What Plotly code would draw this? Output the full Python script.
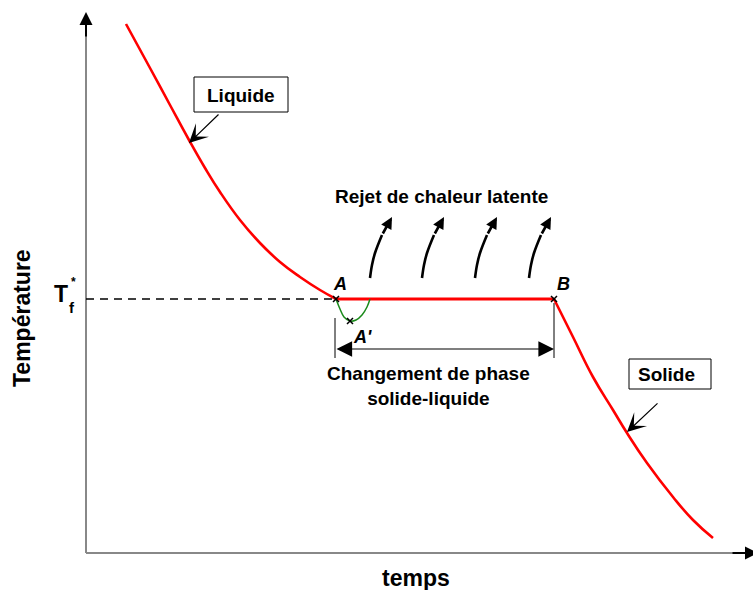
import plotly.graph_objects as go

# ---------------- data (time / temperature in arbitrary units) ----------------
liquid_time = [40, 64, 84, 103, 119, 134, 154, 174, 194, 214, 234, 250]
liquid_temp = [529, 485, 448, 413, 385, 361, 333, 310, 291, 276, 263, 254]

plateau_time = [250, 468]
plateau_temp = [254, 254]

solid_time = [468, 487, 507, 527, 541, 561, 587, 607, 627]
solid_temp = [254, 216, 176, 143, 120, 90, 56, 33, 15]

undercool_time = [250, 254, 258, 264, 270, 276, 281, 284]
undercool_temp = [254, 244, 236, 232, 233, 238, 246, 254]

Tf = 254
point_names = ["A", "A'", "B"]
point_time = [250, 264, 468]
point_temp = [254, 232, 254]

heat_arrow_time = [284, 336, 389, 443]
heat_arrow_temp = 275
heat_curve_dt = [0, 2, 5, 12, 22]
heat_curve_dT = [0, 13, 25, 43, 61]

FONT = "Liberation Sans, Arial, Helvetica, sans-serif"

fig = go.Figure()

# dashed T_f line
fig.add_trace(go.Scatter(x=[0, point_time[0]], y=[Tf, Tf], mode="lines",
                         line=dict(color="black", width=1.6, dash="8px,6px"),
                         hoverinfo="skip"))

# red curves
fig.add_trace(go.Scatter(x=liquid_time, y=liquid_temp, mode="lines",
                         line=dict(color="#ff0000", width=2.6, shape="spline", smoothing=1.3),
                         hoverinfo="skip"))
fig.add_trace(go.Scatter(x=plateau_time, y=plateau_temp, mode="lines",
                         line=dict(color="#ff0000", width=3),
                         hoverinfo="skip"))
fig.add_trace(go.Scatter(x=solid_time, y=solid_temp, mode="lines",
                         line=dict(color="#ff0000", width=2.6, shape="spline", smoothing=1.3),
                         hoverinfo="skip"))
# green undercooling
fig.add_trace(go.Scatter(x=undercool_time, y=undercool_temp, mode="lines",
                         line=dict(color="#1a8a1a", width=1.5, shape="spline"),
                         hoverinfo="skip"))
# points
fig.add_trace(go.Scatter(x=point_time, y=point_temp, mode="markers",
                         marker=dict(symbol="x-thin", size=6, color="black",
                                     line=dict(color="black", width=1.5)),
                         hoverinfo="skip"))

# latent heat curved arrows
for t0 in heat_arrow_time:
    xs = [t0 + d for d in heat_curve_dt]
    ys = [heat_arrow_temp + d for d in heat_curve_dT]
    fig.add_trace(go.Scatter(x=xs[:-1], y=ys[:-1], mode="lines",
                             line=dict(color="black", width=2.6, shape="spline"),
                             hoverinfo="skip"))
    fig.add_annotation(x=xs[-1], y=ys[-1], ax=xs[-2], ay=ys[-2],
                       xref="x", yref="y", axref="x", ayref="y",
                       text="", showarrow=True, arrowhead=2, arrowsize=0.9,
                       arrowwidth=2.6, arrowcolor="black", standoff=0)

shapes = []
# axes
shapes.append(dict(type="line", x0=0, y0=0, x1=0, y1=528,
                   line=dict(color="#888888", width=2)))
shapes.append(dict(type="line", x0=0, y0=0, x1=662, y1=0,
                   line=dict(color="#888888", width=2)))
# phase-change bracket ticks
shapes.append(dict(type="line", x0=249, y0=235, x1=249, y1=195,
                   line=dict(color="black", width=1)))
shapes.append(dict(type="line", x0=468, y0=250, x1=468, y1=195,
                   line=dict(color="black", width=1)))
# label boxes
shapes.append(dict(type="rect", x0=108, y0=441, x1=202, y1=476,
                   line=dict(color="black", width=1), fillcolor="white"))
shapes.append(dict(type="rect", x0=543, y0=164, x1=625, y1=194,
                   line=dict(color="black", width=1), fillcolor="white"))

# axis arrowheads
fig.add_annotation(x=0, y=541, ax=0, ay=515, xref="x", yref="y", axref="x", ayref="y",
                   text="", showarrow=True, arrowhead=2, arrowsize=1.3, arrowwidth=2,
                   arrowcolor="black", standoff=0)
fig.add_annotation(x=672, y=0, ax=645, ay=0, xref="x", yref="y", axref="x", ayref="y",
                   text="", showarrow=True, arrowhead=2, arrowsize=1.3, arrowwidth=2,
                   arrowcolor="black", standoff=0)

# double arrow
fig.add_annotation(x=468, y=204, ax=249, ay=204, xref="x", yref="y", axref="x", ayref="y",
                   text="", showarrow=True, arrowhead=2, startarrowhead=2,
                   arrowside="end+start", arrowsize=2.6, startarrowsize=2.6,
                   arrowwidth=1.2, arrowcolor="black", standoff=0, startstandoff=0)

# box pointer arrows
fig.add_annotation(x=103, y=410, ax=134, ay=440, xref="x", yref="y", axref="x", ayref="y",
                   text="", showarrow=True, arrowhead=3, arrowsize=2.6, arrowwidth=1.2,
                   arrowcolor="black", standoff=0)
fig.add_annotation(x=541, y=121, ax=573, ay=151, xref="x", yref="y", axref="x", ayref="y",
                   text="", showarrow=True, arrowhead=3, arrowsize=2.6, arrowwidth=1.2,
                   arrowcolor="black", standoff=0)

def txt(x, y, s, size=19, italic=False, xanchor="center"):
    if italic:
        s = "<i>" + s + "</i>"
    fig.add_annotation(x=x, y=y, xref="x", yref="y", text="<b>" + s + "</b>",
                       showarrow=False, xanchor=xanchor, yanchor="middle",
                       font=dict(family=FONT, size=size, color="black"))

txt(155, 458, "Liquide")
txt(580, 179, "Solide")
txt(355, 357, "Rejet de chaleur latente")
txt(342, 167, "Changement de phase<br>solide-liquide")
txt(point_time[0] + 4, 269, point_names[0], size=18, italic=True)
txt(point_time[1] + 12, 216, point_names[1], size=18, italic=True)
txt(point_time[2] + 9, 269, point_names[2], size=18, italic=True)

# T_f label
txt(-25, 259, "T", size=23)
txt(-14, 246, "f", size=15)
txt(-13, 271, "*", size=12)

# axis titles
fig.add_annotation(x=-64, y=235, xref="x", yref="y", text="<b>Température</b>",
                   showarrow=False, textangle=-90,
                   font=dict(family=FONT, size=23, color="black"))
fig.add_annotation(x=330, y=-25, xref="x", yref="y", text="<b>temps</b>",
                   showarrow=False,
                   font=dict(family=FONT, size=23, color="black"))

fig.update_layout(
    width=753, height=590,
    margin=dict(l=0, r=0, t=0, b=0),
    paper_bgcolor="white", plot_bgcolor="white",
    showlegend=False,
    shapes=shapes,
    xaxis=dict(range=[-86, 667], visible=False, fixedrange=True),
    yaxis=dict(range=[-37, 553], visible=False, fixedrange=True),
)
for s in fig.layout.shapes:
    s.layer = "below"

fig.write_html("out.html", config={"displayModeBar": False},
               post_script="document.body.style.margin='0';document.body.style.overflow='hidden';")
